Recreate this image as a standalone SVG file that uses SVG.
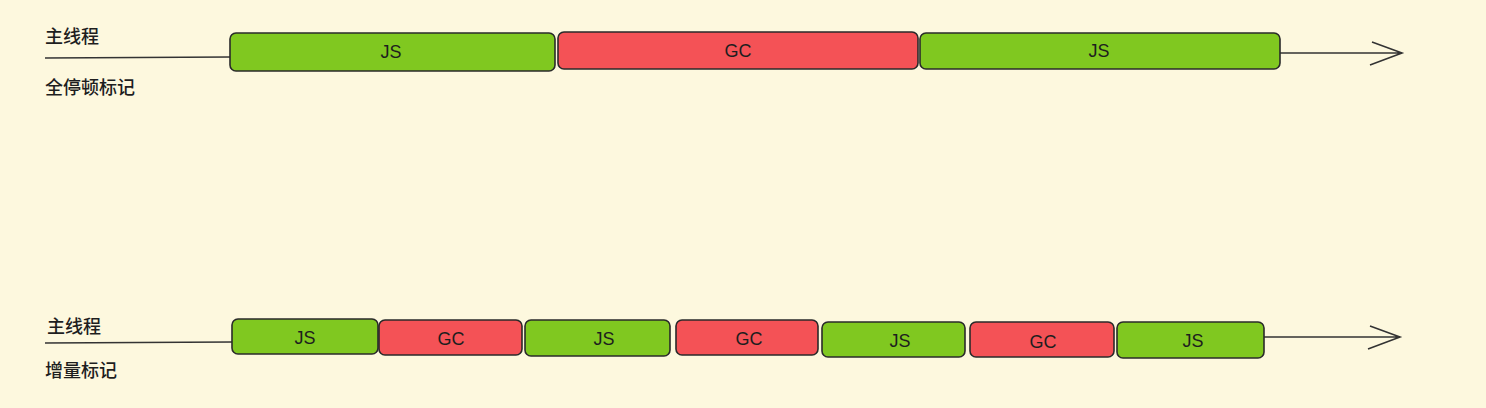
<svg xmlns="http://www.w3.org/2000/svg" width="1486" height="408" viewBox="0 0 1486 408">
<style>
.bg{fill:#fdf8de}
.js{fill:#80c820;stroke:#2a2a2a;stroke-width:1.6}
.gc{fill:#f45256;stroke:#2a2a2a;stroke-width:1.6}
.t{font-family:"Liberation Sans",Arial,sans-serif;font-size:18px;fill:#1e1e1e;text-anchor:middle;dominant-baseline:central}
.lbl{font-family:"Noto Sans CJK SC","Noto Sans",sans-serif;font-size:18px;font-weight:500;fill:#1e1e1e}
.ln{stroke:#333;stroke-width:1.6;fill:none}
</style>
<rect class="bg" x="0" y="0" width="1486" height="408"/>
<g id="labels">
<text class="lbl" x="45" y="43">主线程</text>
<text class="lbl" x="45" y="94">全停顿标记</text>
<text class="lbl" x="47" y="333">主线程</text>
<text class="lbl" x="45" y="377">增量标记</text>
</g>
<g id="connectors">
<path class="ln" d="M45 58 L230 57"/>
<path class="ln" d="M1280 53 L1402 53 M1372 42 L1402 53 L1370 65"/>
<path class="ln" d="M45 343 L232 342"/>
<path class="ln" d="M1264 337 L1400 337 M1370 326 L1400 337 L1368 349"/>
</g>
<g id="top-js1"><rect class="js" x="230" y="33" width="325" height="38" rx="6"/><text class="t" x="391" y="52">JS</text></g>
<g id="top-gc"><rect class="gc" x="558" y="32" width="360" height="37" rx="6"/><text class="t" x="738" y="51">GC</text></g>
<g id="top-js2"><rect class="js" x="920" y="33" width="360" height="36" rx="6"/><text class="t" x="1099" y="51">JS</text></g>
<g id="b-js1"><rect class="js" x="232" y="319" width="146" height="35" rx="6"/><text class="t" x="305" y="338">JS</text></g>
<g id="b-gc1"><rect class="gc" x="379" y="320" width="143" height="35" rx="6"/><text class="t" x="451" y="339">GC</text></g>
<g id="b-js2"><rect class="js" x="525" y="320" width="145" height="36" rx="6"/><text class="t" x="604" y="339">JS</text></g>
<g id="b-gc2"><rect class="gc" x="676" y="320" width="142" height="35" rx="6"/><text class="t" x="749" y="339">GC</text></g>
<g id="b-js3"><rect class="js" x="822" y="322" width="143" height="35" rx="6"/><text class="t" x="900" y="341">JS</text></g>
<g id="b-gc3"><rect class="gc" x="970" y="322" width="144" height="35" rx="6"/><text class="t" x="1043" y="342">GC</text></g>
<g id="b-js4"><rect class="js" x="1117" y="322" width="147" height="36" rx="6"/><text class="t" x="1193" y="341">JS</text></g>
</svg>
